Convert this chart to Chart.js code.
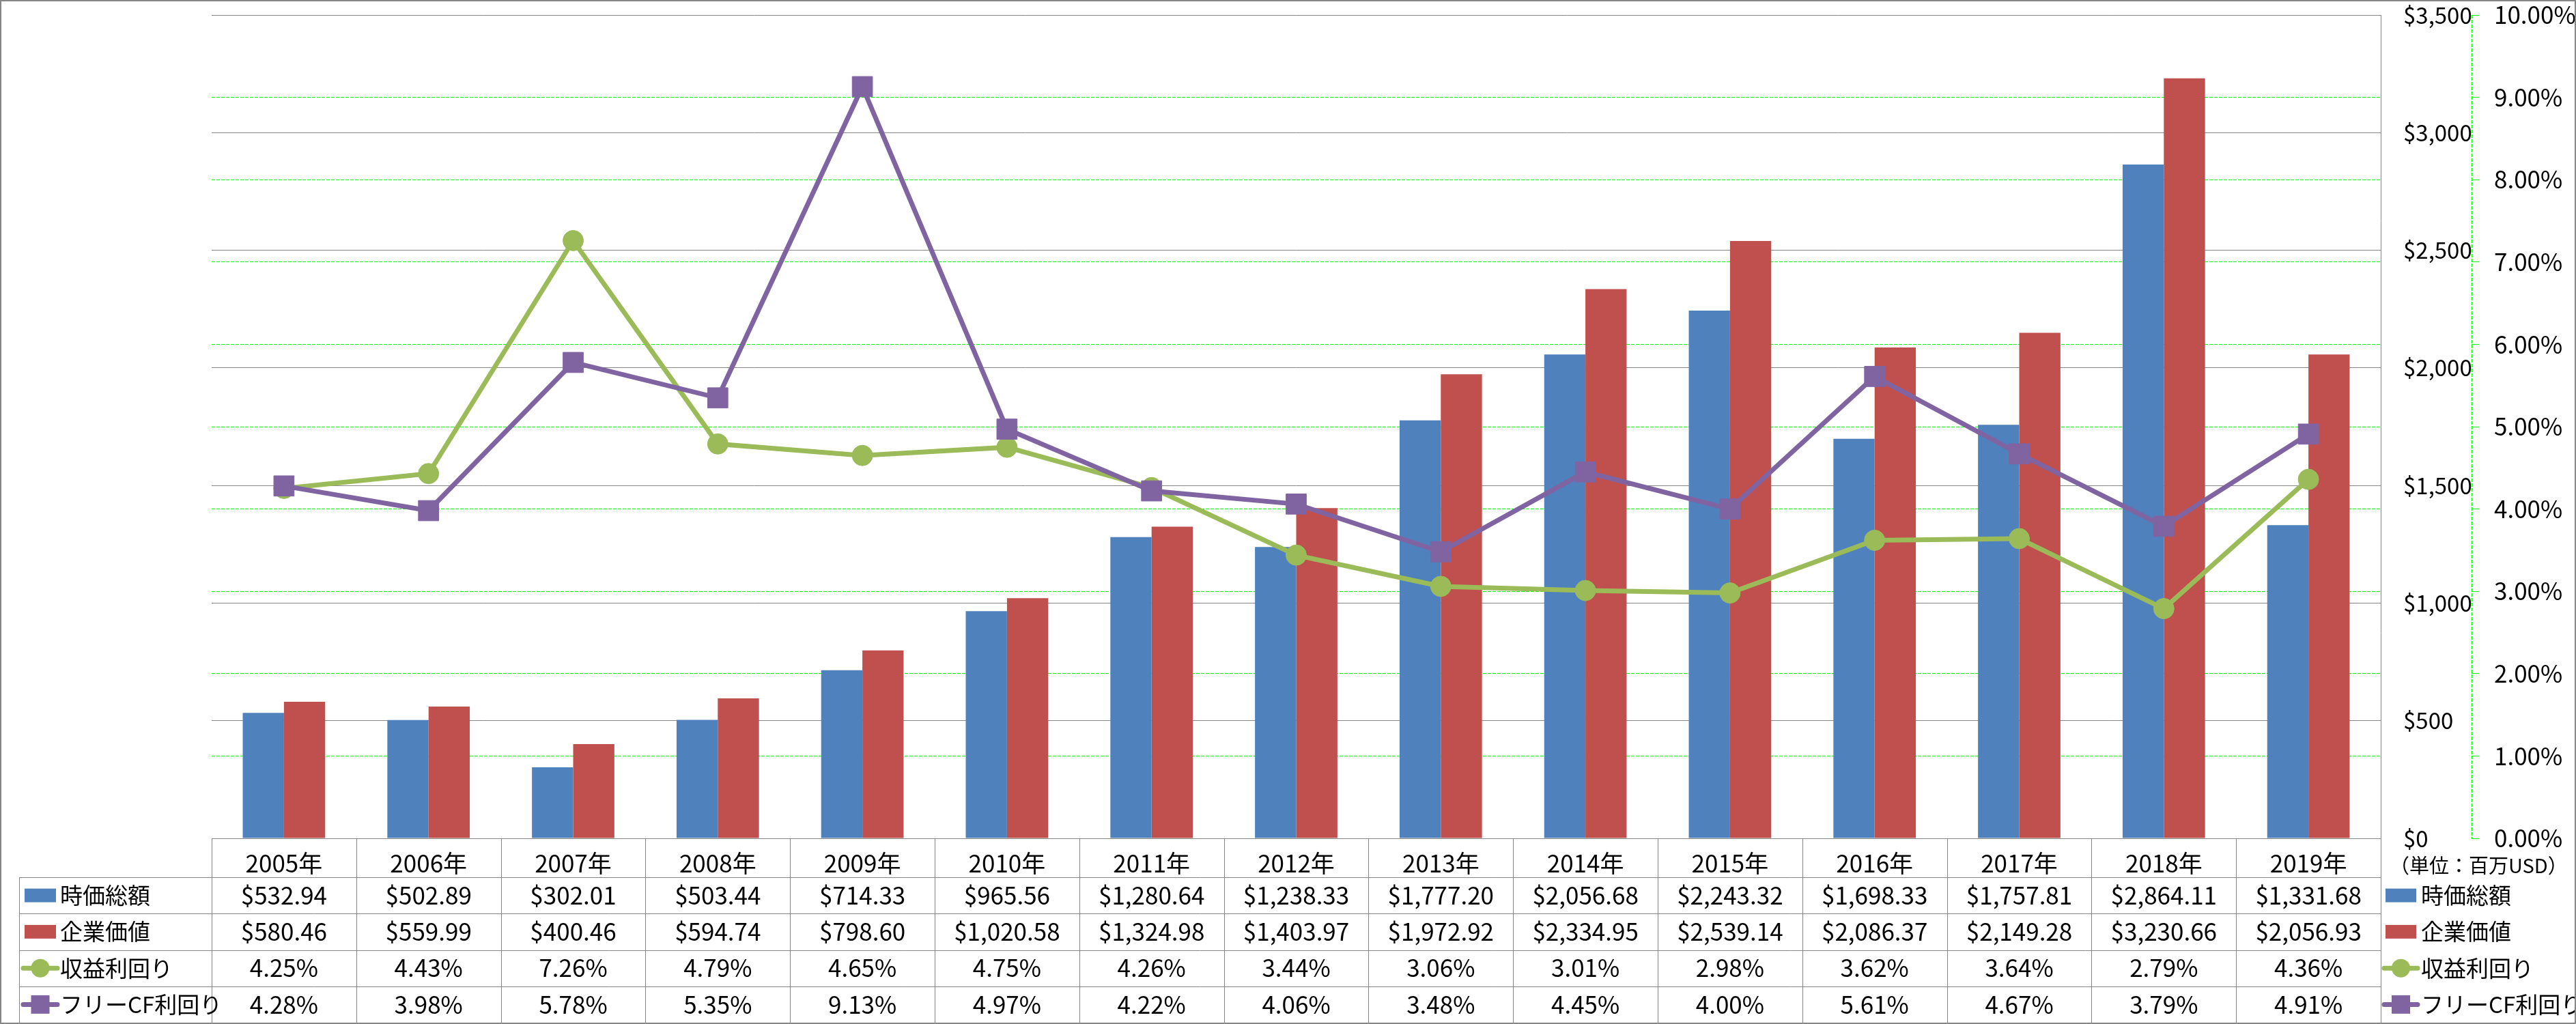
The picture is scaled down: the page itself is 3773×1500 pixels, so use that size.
<!DOCTYPE html>
<html lang="ja">
<head>
<meta charset="utf-8">
<title>時価総額・企業価値と利回り</title>
<script src="https://cdn.jsdelivr.net/npm/chart.js@4.4.1/dist/chart.umd.min.js"></script>
<style>
  html, body { margin: 0; padding: 0; background: #fff; }
  canvas { display: block; }
</style>
</head>
<body>
<canvas id="chart" width="3773" height="1500"></canvas>
<script>
// 年ごとの値（単位: 百万USD / %）
const years = ['2005年', '2006年', '2007年', '2008年', '2009年', '2010年', '2011年', '2012年',
  '2013年', '2014年', '2015年', '2016年', '2017年', '2018年', '2019年'];
const marketCap = [532.94, 502.89, 302.01, 503.44, 714.33, 965.56, 1280.64, 1238.33,
  1777.20, 2056.68, 2243.32, 1698.33, 1757.81, 2864.11, 1331.68];
const enterpriseValue = [580.46, 559.99, 400.46, 594.74, 798.60, 1020.58, 1324.98, 1403.97,
  1972.92, 2334.95, 2539.14, 2086.37, 2149.28, 3230.66, 2056.93];
const earningsYield = [4.25, 4.43, 7.26, 4.79, 4.65, 4.75, 4.26, 3.44,
  3.06, 3.01, 2.98, 3.62, 3.64, 2.79, 4.36];
const fcfYield = [4.28, 3.98, 5.78, 5.35, 9.13, 4.97, 4.22, 4.06,
  3.48, 4.45, 4.00, 5.61, 4.67, 3.79, 4.91];

// 軸の目盛り
const usdTicks = [0, 500, 1000, 1500, 2000, 2500, 3000, 3500];
const pctTicks = [0, 1, 2, 3, 4, 5, 6, 7, 8, 9, 10];

const BLUE = '#4F81BD';
const RED = '#C0504D';
const GREEN = '#9BBB59';
const PURPLE = '#8064A2';
const GRID = '#868686';
const LIME = '#00ff00';
const FONT = "'Noto Sans CJK JP', 'Noto Sans', sans-serif";

const fmtUsd = (v, d) => '$' + v.toLocaleString('en-US', { minimumFractionDigits: d, maximumFractionDigits: d });
const fmtPct = v => v.toFixed(2) + '%';

const rows = [
  { label: '時価総額', kind: 'bar', color: BLUE, values: marketCap, fmt: v => fmtUsd(v, 2) },
  { label: '企業価値', kind: 'bar', color: RED, values: enterpriseValue, fmt: v => fmtUsd(v, 2) },
  { label: '収益利回り', kind: 'circle', color: GREEN, values: earningsYield, fmt: fmtPct },
  { label: 'フリーCF利回り', kind: 'rect', color: PURPLE, values: fcfYield, fmt: fmtPct }
];

// 凡例の記号
function drawSymbol(ctx, row, x0, x1, cy, size) {
  ctx.fillStyle = row.color;
  ctx.strokeStyle = row.color;
  if (row.kind === 'bar') {
    ctx.fillRect(x0 + 2, cy - 10, x1 - x0 - 4, 20);
    return;
  }
  const cx = (x0 + x1) / 2;
  ctx.lineWidth = 7;
  ctx.lineCap = 'round';
  ctx.beginPath();
  ctx.moveTo(x0, cy);
  ctx.lineTo(x1, cy);
  ctx.stroke();
  if (row.kind === 'circle') {
    ctx.beginPath();
    ctx.arc(cx, cy, size / 2, 0, Math.PI * 2);
    ctx.fill();
  } else {
    ctx.fillRect(cx - size / 2, cy - size / 2, size, size);
  }
}

// グラフ下のデータテーブルと右下の凡例
const dataTable = {
  id: 'dataTable',
  afterDraw(chart) {
    const ctx = chart.ctx;
    const xs = chart.scales.x;
    const n = years.length;
    const colW = xs.width / n;
    const labelLeft = 28;
    const headTop = chart.chartArea.bottom;
    const top = xs.bottom;
    const bottom = chart.height - 2;
    const rowH = (bottom - top) / rows.length;
    const px = v => Math.round(v) + 0.5;

    ctx.save();
    ctx.strokeStyle = GRID;
    ctx.lineWidth = 1;
    ctx.beginPath();
    for (let i = 0; i <= n; i++) {
      const x = px(xs.left + i * colW);
      ctx.moveTo(x, headTop);
      ctx.lineTo(x, bottom);
    }
    ctx.moveTo(px(labelLeft), top);
    ctx.lineTo(px(labelLeft), bottom);
    for (let r = 0; r <= rows.length; r++) {
      const y = px(top + r * rowH);
      ctx.moveTo(labelLeft, y);
      ctx.lineTo(xs.right, y);
    }
    ctx.stroke();

    // 第2軸の破線
    const y1 = chart.scales.y1;
    ctx.strokeStyle = LIME;
    ctx.setLineDash([5, 2]);
    ctx.beginPath();
    ctx.moveTo(px(y1.left), y1.top);
    ctx.lineTo(px(y1.left), y1.bottom);
    ctx.stroke();
    ctx.setLineDash([]);

    ctx.textBaseline = 'middle';
    rows.forEach((row, r) => {
      const cy = top + r * rowH + rowH / 2;
      ctx.fillStyle = '#000';
      ctx.textAlign = 'center';
      ctx.font = '35px ' + FONT;
      row.values.forEach((v, i) => {
        ctx.fillText(row.fmt(v), xs.getPixelForValue(i), cy);
      });
      // 表の左列
      drawSymbol(ctx, row, 34, 84, cy, 27);
      ctx.fillStyle = '#000';
      ctx.textAlign = 'left';
      ctx.font = '33px ' + FONT;
      ctx.fillText(row.label, 88, cy);
      // 右側の凡例
      drawSymbol(ctx, row, 3492, 3541, cy, 27);
      ctx.fillStyle = '#000';
      ctx.fillText(row.label, 3546, cy);
    });

    ctx.font = '29px ' + FONT;
    ctx.textAlign = 'left';
    ctx.fillText('（単位：百万USD）', 3500, headTop + 40);

    ctx.strokeStyle = GRID;
    ctx.lineWidth = 2;
    ctx.strokeRect(1, 1, chart.width - 2, chart.height - 2);
    ctx.restore();
  }
};

new Chart(document.getElementById('chart'), {
  data: {
    labels: years,
    datasets: [
      { type: 'bar', label: '時価総額', data: marketCap, backgroundColor: BLUE, yAxisID: 'y', order: 2,
        categoryPercentage: 0.57, barPercentage: 1.0 },
      { type: 'bar', label: '企業価値', data: enterpriseValue, backgroundColor: RED, yAxisID: 'y', order: 2,
        categoryPercentage: 0.57, barPercentage: 1.0 },
      { type: 'line', label: '収益利回り', data: earningsYield, yAxisID: 'y1', order: 1,
        borderColor: GREEN, backgroundColor: GREEN, borderWidth: 7, tension: 0,
        pointStyle: 'circle', pointRadius: 15, pointBorderWidth: 1 },
      { type: 'line', label: 'フリーCF利回り', data: fcfYield, yAxisID: 'y1', order: 0,
        borderColor: PURPLE, backgroundColor: PURPLE, borderWidth: 7, tension: 0,
        pointStyle: 'rect', pointRadius: 21, pointBorderWidth: 1 }
    ]
  },
  options: {
    responsive: false,
    animation: false,
    devicePixelRatio: 1,
    layout: { padding: { left: 310, top: 22, right: 0, bottom: 215 } },
    plugins: {
      legend: { display: false },
      tooltip: { enabled: false }
    },
    scales: {
      x: {
        offset: true,
        grid: { display: false },
        border: { display: true, color: GRID, width: 1 },
        ticks: { color: '#000', font: { family: FONT, size: 35 }, padding: 8, autoSkip: false, maxRotation: 0 },
        afterFit: s => { s.height = 57; }
      },
      y: {
        position: 'right',
        weight: 0,
        min: 0,
        max: 3500,
        afterBuildTicks: s => { s.ticks = usdTicks.map(v => ({ value: v })); },
        grid: { color: GRID, lineWidth: 1, drawTicks: false },
        border: { display: true, color: GRID, width: 1 },
        ticks: { color: '#000', font: { family: FONT, size: 33 }, padding: 33, callback: v => fmtUsd(v, 0) },
        afterFit: s => { s.width = 133; s.paddingTop = 0; s.paddingBottom = 0; }
      },
      y1: {
        position: 'right',
        weight: 1,
        min: 0,
        max: 10,
        afterBuildTicks: s => { s.ticks = pctTicks.map(v => ({ value: v })); },
        grid: {
          color: c => (c.tick && (c.tick.value === 0 || c.tick.value === 10)) ? 'rgba(0,0,0,0)' : LIME,
          lineWidth: 1, tickLength: 11, tickColor: LIME
        },
        border: { display: false, dash: [5, 2] },
        ticks: { color: '#000', font: { family: FONT, size: 35 }, padding: 22, callback: v => fmtPct(v) },
        afterFit: s => { s.width = 153; s.paddingTop = 0; s.paddingBottom = 0; }
      }
    }
  },
  plugins: [dataTable]
});
</script>
</body>
</html>
